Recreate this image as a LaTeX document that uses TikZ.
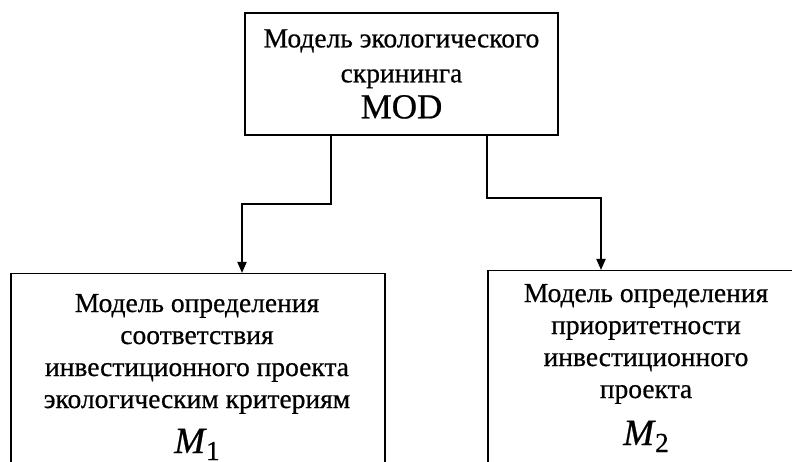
\documentclass[tikz,border=0pt]{standalone}
\usepackage{fontspec}
\setmainfont{Liberation Serif}
\newfontfamily\tnr{Liberation Serif}[FakeBold=0.6]
\usetikzlibrary{arrows.meta}
\newcommand\mlab[1]{{\fontsize{37bp}{37bp}\selectfont\itshape M}\kern1bp\raisebox{-7bp}{#1}}
\begin{document}
\begin{tikzpicture}[x=1bp,y=-1bp,
  box/.style={draw, line width=1.5bp, inner sep=0pt},
  conn/.style={line width=1.8bp, -{Triangle[length=11bp,width=9bp]}},
  txt/.style={align=center, inner sep=0pt, font=\tnr\fontsize{27.5bp}{32bp}\selectfont}]
\clip (0,0) rectangle (792,462);
\node[box, minimum width=313bp, minimum height=122bp] (mod) at (401.5,74) {};
\node[txt, font=\tnr\fontsize{27.5bp}{35bp}\selectfont] (t0) at (mod.center)
  {Модель экологического\\скрининга\\[1bp]{\fontsize{35bp}{35bp}\selectfont MOD}};
\node[box, anchor=north west, minimum width=374bp, minimum height=230bp] (m1) at (10,273) {};
\node[box, anchor=north west, minimum width=330bp, minimum height=230bp] (m2) at (487,270) {};
\node[txt] (t1) at (197,377)
  {Модель определения\\соответствия\\инвестиционного проекта\\экологическим критериям\\[13bp]\mlab{1}};
\node[txt] (t2) at (646,368)
  {Модель определения\\приоритетности\\инвестиционного\\проекта\\[15bp]\mlab{2}};
\draw[conn] ([xshift=-70.5bp]mod.south) -- ++(0,68) -| ([xshift=232bp]m1.north west);
\draw[conn] ([xshift=85.5bp]mod.south) -- ++(0,62) -| ([xshift=114bp]m2.north west);
\end{tikzpicture}
\end{document}
